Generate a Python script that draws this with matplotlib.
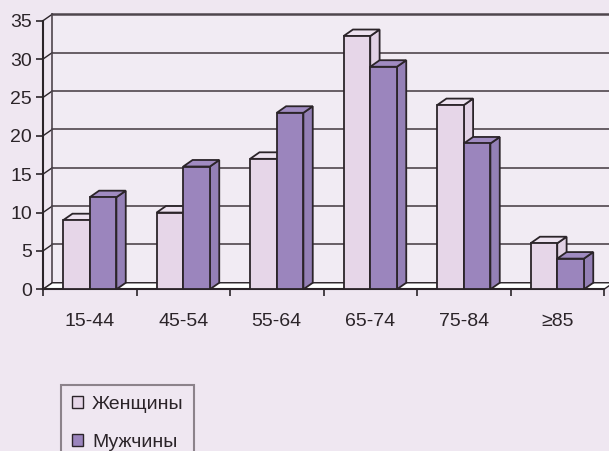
import matplotlib
matplotlib.use("Agg")
import matplotlib.pyplot as plt
from matplotlib.patches import Rectangle, Polygon, Patch

plt.rcParams['font.family'] = ['Liberation Sans', 'DejaVu Sans']

groups = ["15-44", "45-54", "55-64", "65-74", "75-84", "≥85"]
women = [9, 10, 17, 33, 24, 6]
men = [12, 16, 23, 29, 19, 4]
series_names = ["Женщины", "Мужчины"]
yticks = [0, 5, 10, 15, 20, 25, 30, 35]

bg = "#efe7f1"
wall = "#f1ebf3"
ink = "#2b2429"
# front / top / side shades of each series
women_faces = ("#e6d6e8", "#ede2ef", "#e2d2e5")
men_faces = ("#9b85bd", "#a08bc1", "#9480b6")

fig = plt.figure(figsize=(6.09, 4.51), dpi=100, facecolor=bg)
ax = fig.add_axes([43 / 609, 161.7 / 451, 561 / 609, 268.6 / 451])
ax.set_xlim(0, len(groups))
ax.set_ylim(0, 35)
ax.patch.set_alpha(0)

# depth of the pseudo-3d box in data units
DX = 0.10
DY = 0.85
n = len(groups)

# back wall, gridlines and floor
ax.add_patch(Rectangle((DX, DY), n, 35, facecolor=wall, edgecolor="none",
                       zorder=0, clip_on=False))
for v in yticks:
    lw = 1.8 if v == 35 else 1.2
    ax.plot([DX, n + DX], [v + DY, v + DY], color="#4f464d", lw=lw,
            zorder=1, clip_on=False)
    ax.plot([0, DX], [v, v + DY], color=ink, lw=1.0, zorder=1, clip_on=False)
ax.plot([DX, DX], [DY, 35 + DY], color="#4f464d", lw=1.2, zorder=1,
        clip_on=False)
ax.add_patch(Polygon([(0, 0), (n, 0), (n + DX, DY), (DX, DY)], closed=True,
                     facecolor="white", edgecolor=ink, lw=1.0, zorder=2,
                     clip_on=False))


def bar3d(x0, w, h, faces, z):
    front, top, side = faces
    kw = dict(edgecolor=ink, lw=1.3, zorder=z, clip_on=False)
    ax.add_patch(Polygon([(x0 + w, 0), (x0 + w + DX, DY),
                          (x0 + w + DX, h + DY), (x0 + w, h)],
                         closed=True, facecolor=side, **kw))
    ax.add_patch(Polygon([(x0, h), (x0 + w, h), (x0 + w + DX, h + DY),
                          (x0 + DX, h + DY)], closed=True, facecolor=top, **kw))
    ax.add_patch(Rectangle((x0, 0), w, h, facecolor=front, **kw))


bw = 0.285
for i in range(n):
    bar3d(i + 0.215, bw, women[i], women_faces, 3 + 2 * i)
    bar3d(i + 0.5, bw, men[i], men_faces, 4 + 2 * i)

for s in ["top", "right"]:
    ax.spines[s].set_visible(False)
for s in ["left", "bottom"]:
    ax.spines[s].set_color(ink)
    ax.spines[s].set_linewidth(1.5)
    ax.spines[s].set_zorder(2.5)

ax.set_yticks(yticks)
ax.tick_params(axis="y", direction="out", length=5, width=1.2, color=ink,
               labelsize=14, labelcolor=ink, pad=3)
ax.set_xticks(range(n + 1))
ax.set_xticklabels([])
ax.set_xticks([i + 0.5 for i in range(n)], minor=True)
ax.set_xticklabels(groups, minor=True)
ax.tick_params(axis="x", which="major", direction="out", length=5, width=1.2,
               color=ink)
ax.tick_params(axis="x", which="minor", length=0, labelsize=14,
               labelcolor=ink, pad=17)

handles = [Patch(facecolor=women_faces[0], edgecolor=ink, lw=1.0),
           Patch(facecolor=men_faces[0], edgecolor=ink, lw=1.0)]
leg = fig.legend(handles, series_names, loc="upper left",
                 bbox_to_anchor=(61 / 609, 66 / 451), fontsize=14,
                 frameon=True, fancybox=False, borderaxespad=0,
                 handlelength=0.6, handleheight=0.6, handletextpad=0.45,
                 labelspacing=1.1, borderpad=0.55, labelcolor=ink)
leg.get_frame().set_facecolor(bg)
leg.get_frame().set_edgecolor("#746a72")
leg.get_frame().set_linewidth(1.5)

fig.savefig("out.png", dpi=100, facecolor=bg)
